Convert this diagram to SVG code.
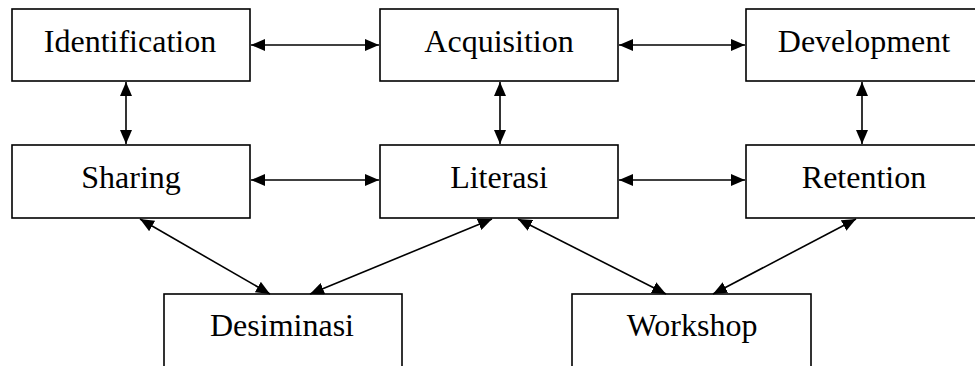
<svg xmlns="http://www.w3.org/2000/svg" width="975" height="366" viewBox="0 0 975 366">
<style>
.box{fill:#fff;stroke:#000;stroke-width:1.6}
.lbl{font-family:"Liberation Serif","Times New Roman",serif;font-size:32px;fill:#000;text-anchor:middle}
.con{stroke:#000;stroke-width:1.6;fill:none;marker-start:url(#ah);marker-end:url(#ah)}
</style>
<defs>
<marker id="ah" markerUnits="userSpaceOnUse" markerWidth="15" markerHeight="12" refX="14" refY="6" orient="auto-start-reverse">
<path d="M0,0 L14,6 L0,12 z" fill="#000"/>
</marker>
</defs>
<rect width="975" height="366" fill="#fff"/>
<g id="identification"><rect class="box" x="12" y="9" width="238" height="72"/><text class="lbl" x="130" y="52">Identification</text></g>
<g id="acquisition"><rect class="box" x="380" y="9" width="238" height="72"/><text class="lbl" x="499" y="52">Acquisition</text></g>
<g id="development"><rect class="box" x="746" y="9" width="238" height="72"/><text class="lbl" x="864" y="52">Development</text></g>
<g id="sharing"><rect class="box" x="12" y="145" width="238" height="73"/><text class="lbl" x="131" y="188">Sharing</text></g>
<g id="literasi"><rect class="box" x="380" y="145" width="238" height="73"/><text class="lbl" x="499" y="188">Literasi</text></g>
<g id="retention"><rect class="box" x="746" y="145" width="238" height="73"/><text class="lbl" x="864" y="188">Retention</text></g>
<g id="desiminasi"><rect class="box" x="164" y="294" width="238" height="80"/><text class="lbl" x="282" y="336">Desiminasi</text></g>
<g id="workshop"><rect class="box" x="572" y="294" width="239" height="80"/><text class="lbl" x="692" y="336">Workshop</text></g>
<g id="connectors">
<line class="con" x1="251" y1="45" x2="379" y2="45"/>
<line class="con" x1="619" y1="45" x2="745" y2="45"/>
<line class="con" x1="251" y1="180" x2="379" y2="180"/>
<line class="con" x1="619" y1="180" x2="745" y2="180"/>
<line class="con" x1="126" y1="82" x2="126" y2="144"/>
<line class="con" x1="500" y1="82" x2="500" y2="144"/>
<line class="con" x1="862" y1="82" x2="862" y2="144"/>
<line class="con" x1="140" y1="219" x2="270" y2="294"/>
<line class="con" x1="492" y1="219" x2="310" y2="294"/>
<line class="con" x1="518" y1="219" x2="666" y2="294"/>
<line class="con" x1="856" y1="219" x2="713" y2="294"/>
</g>
</svg>
